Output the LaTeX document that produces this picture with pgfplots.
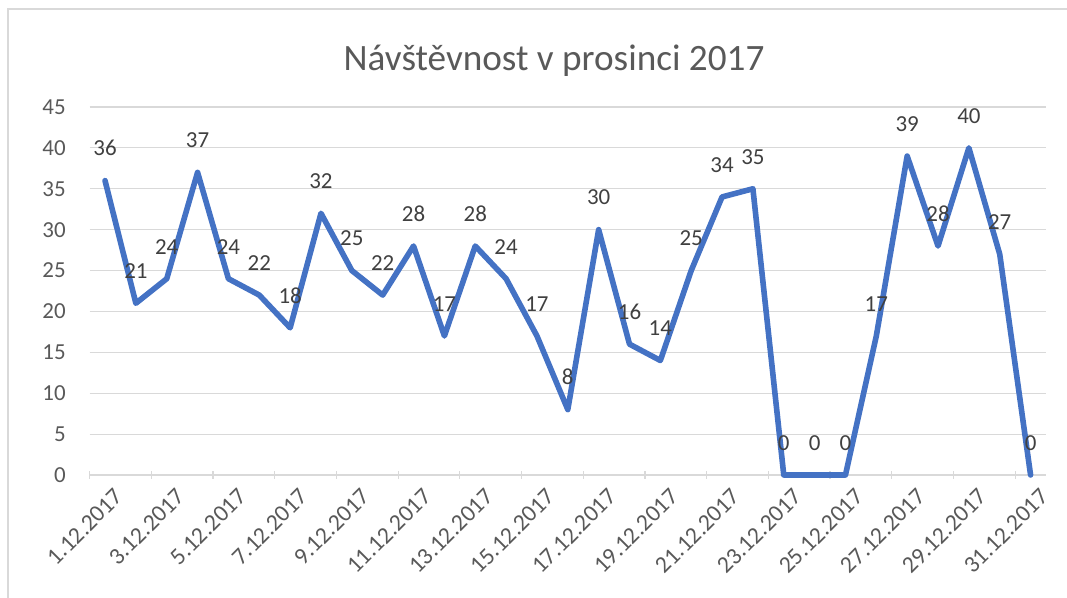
\documentclass[border=0pt]{standalone}
\usepackage{pgfplots}
\pgfplotsset{compat=1.18}
\usepackage{fontspec}
\setmainfont{Carlito}
\definecolor{ctext}{HTML}{595959}
\definecolor{clab}{HTML}{404040}
\definecolor{cgrid}{HTML}{D9D9D9}
\definecolor{cline}{HTML}{4472C4}
\begin{document}
\begin{tikzpicture}
\path[use as bounding box] (0,0) rectangle (800.25pt,448.5pt);
\draw[cgrid, line width=1.1pt] (6pt,0pt) -- (6pt,441.75pt) -- (800.25pt,441.75pt);
\node[anchor=base, text=ctext, font=\fontsize{27.9}{31}\selectfont, inner sep=0pt] at (415.5pt,395.25pt) {Návštěvnost v prosinci 2017};
\begin{axis}[
  at={(67.2pt,92.25pt)}, anchor=south west,
  scale only axis, width=717.3pt, height=276pt,
  xmin=-0.5, xmax=30.5, ymin=0, ymax=45,
  ytick={0,5,...,45},
  xtick={0,2,...,30},
  xticklabels={1.12.2017,3.12.2017,5.12.2017,7.12.2017,9.12.2017,11.12.2017,13.12.2017,15.12.2017,17.12.2017,19.12.2017,21.12.2017,23.12.2017,25.12.2017,27.12.2017,29.12.2017,31.12.2017},
  extra x ticks={-0.5,1.5,...,29.5},
  extra x tick labels={},
  extra x tick style={major tick length=6pt, tick style={draw=cgrid, line width=0.9pt}},
  tick align=outside,
  major tick length=0pt,
  axis x line=bottom, axis y line=left,
  x axis line style={draw=cgrid, line width=0.9pt, -},
  y axis line style={draw=none},
  ymajorgrids, grid style={draw=cgrid, line width=0.9pt},
  /pgf/number format/assume math mode=true,
  tick label style={text=ctext, font=\fontsize{17.2}{20}\selectfont},
  yticklabel style={anchor=east, inner sep=0pt, xshift=-17.7pt},
  xticklabel style={rotate=45, anchor=east, inner sep=0pt, yshift=-17pt, xshift=-2pt, font=\fontsize{17.8}{20}\selectfont},
  clip=false,
  nodes near coords,
  every node near coord/.append style={anchor=base, inner sep=0pt, yshift=18.5pt, text=clab, font=\fontsize{17.2}{20}\selectfont},
]
\addplot[cline, line width=4.2pt, line join=round, line cap=round, mark=none] coordinates {
(0,36)(1,21)(2,24)(3,37)(4,24)(5,22)(6,18)(7,32)(8,25)(9,22)(10,28)(11,17)(12,28)(13,24)(14,17)(15,8)(16,30)(17,16)(18,14)(19,25)(20,34)(21,35)(22,0)(23,0)(24,0)(25,17)(26,39)(27,28)(28,40)(29,27)(30,0)
};
\end{axis}
\end{tikzpicture}
\end{document}
